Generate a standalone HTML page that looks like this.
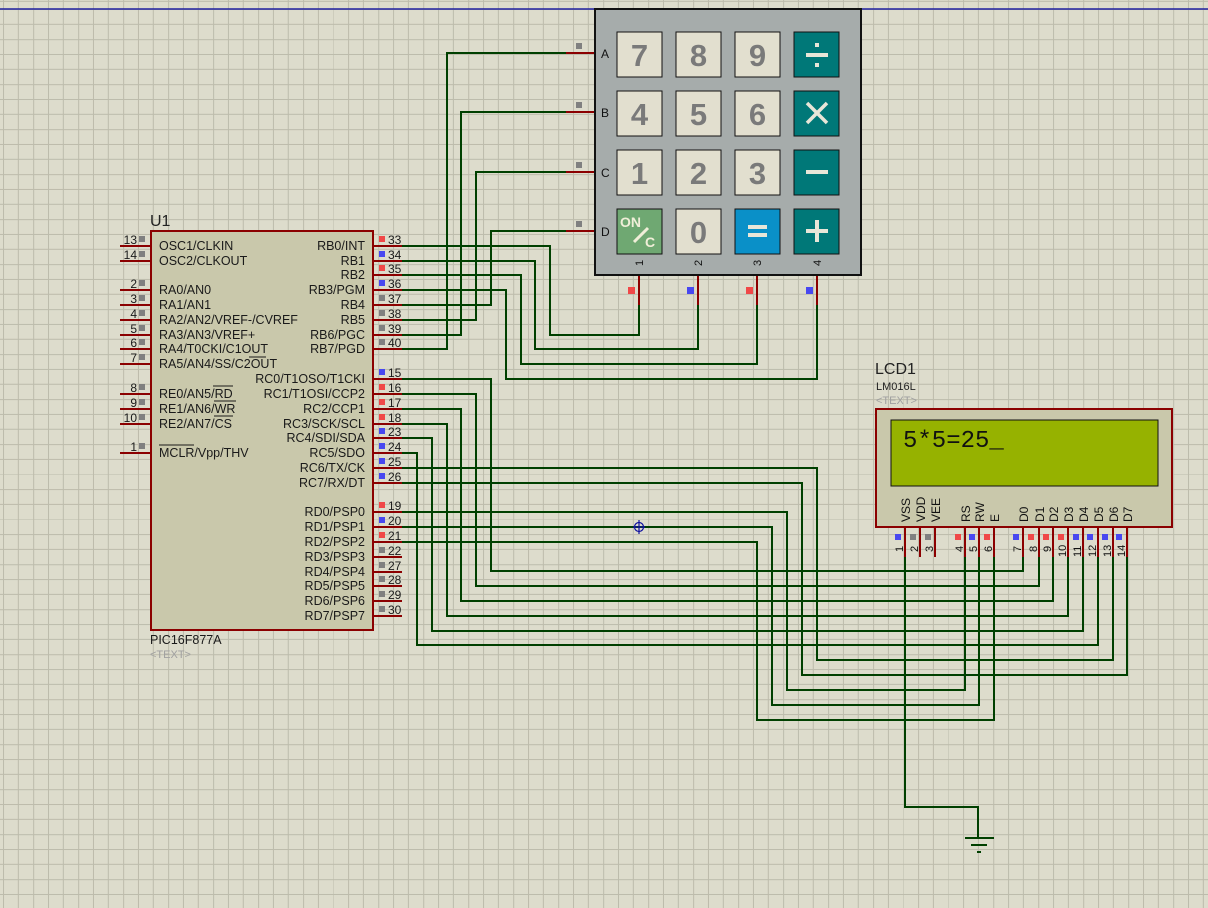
<!DOCTYPE html>
<html><head><meta charset="utf-8"><style>
html,body{margin:0;padding:0;width:1208px;height:908px;overflow:hidden}
body{background-color:#dddccc;background-image:repeating-linear-gradient(to right,#bdbcac 0,#bdbcac 1px,transparent 1px,transparent 15px),repeating-linear-gradient(to bottom,#bdbcac 0,#bdbcac 1px,transparent 1px,transparent 15px);background-position:3px 9px}
svg{position:absolute;left:0;top:0}
text{font-family:"Liberation Sans",Arial,sans-serif}
</style></head><body>
<svg width="1208" height="908" viewBox="0 0 1208 908">
<line x1="0" y1="9" x2="1208" y2="9" stroke="#2020a0" stroke-width="1.5"/>
<g fill="none" stroke="#004000" stroke-width="2">
<polyline points="402,246 550,246 550,335 639,335 639,305"/>
<polyline points="402,261 535,261 535,349 698,349 698,305"/>
<polyline points="402,275 521,275 521,364 757,364 757,305"/>
<polyline points="402,290 506,290 506,379 817,379 817,305"/>
<polyline points="402,305 491,305 491,231 566,231"/>
<polyline points="402,320 476,320 476,172 566,172"/>
<polyline points="402,335 461,335 461,112 566,112"/>
<polyline points="402,349 447,349 447,53 566,53"/>
<polyline points="402,379 491,379 491,571 1023,571 1023,557"/>
<polyline points="402,394 476,394 476,586 1039,586 1039,557"/>
<polyline points="402,409 461,409 461,601 1053,601 1053,557"/>
<polyline points="402,424 447,424 447,616 1068,616 1068,557"/>
<polyline points="402,438 432,438 432,631 1083,631 1083,557"/>
<polyline points="402,453 417,453 417,645 1098,645 1098,557"/>
<polyline points="402,468 817,468 817,660 1113,660 1113,557"/>
<polyline points="402,483 802,483 802,675 1127,675 1127,557"/>
<polyline points="402,512 787,512 787,690 965,690 965,557"/>
<polyline points="402,527 772,527 772,705 979,705 979,557"/>
<polyline points="402,542 757,542 757,720 994,720 994,557"/>
<polyline points="905,557 905,807 978,807 978,837"/>
</g>
<g stroke="#004000" stroke-width="2"><line x1="965" y1="838" x2="994" y2="838"/><line x1="971" y1="845" x2="987" y2="845"/><line x1="977" y1="852" x2="981" y2="852"/></g>
<g stroke="#1010a0" stroke-width="1.2" fill="none"><circle cx="639" cy="527" r="4.5"/><line x1="639" y1="520" x2="639" y2="534"/><line x1="633" y1="527" x2="645" y2="527"/></g>

<text x="150" y="226" font-size="16" fill="#222">U1</text>
<g stroke="#8b0000" stroke-width="2">
<line x1="120" y1="246" x2="151" y2="246"/><line x1="120" y1="261" x2="151" y2="261"/>
<line x1="120" y1="290" x2="151" y2="290"/><line x1="120" y1="305" x2="151" y2="305"/><line x1="120" y1="320" x2="151" y2="320"/><line x1="120" y1="335" x2="151" y2="335"/><line x1="120" y1="349" x2="151" y2="349"/><line x1="120" y1="364" x2="151" y2="364"/>
<line x1="120" y1="394" x2="151" y2="394"/><line x1="120" y1="409" x2="151" y2="409"/><line x1="120" y1="424" x2="151" y2="424"/><line x1="120" y1="453" x2="151" y2="453"/>
<line x1="373" y1="246" x2="402" y2="246"/><line x1="373" y1="261" x2="402" y2="261"/><line x1="373" y1="275" x2="402" y2="275"/><line x1="373" y1="290" x2="402" y2="290"/><line x1="373" y1="305" x2="402" y2="305"/><line x1="373" y1="320" x2="402" y2="320"/><line x1="373" y1="335" x2="402" y2="335"/><line x1="373" y1="349" x2="402" y2="349"/>
<line x1="373" y1="379" x2="402" y2="379"/><line x1="373" y1="394" x2="402" y2="394"/><line x1="373" y1="409" x2="402" y2="409"/><line x1="373" y1="424" x2="402" y2="424"/><line x1="373" y1="438" x2="402" y2="438"/><line x1="373" y1="453" x2="402" y2="453"/><line x1="373" y1="468" x2="402" y2="468"/><line x1="373" y1="483" x2="402" y2="483"/>
<line x1="373" y1="512" x2="402" y2="512"/><line x1="373" y1="527" x2="402" y2="527"/><line x1="373" y1="542" x2="402" y2="542"/><line x1="373" y1="557" x2="402" y2="557"/><line x1="373" y1="572" x2="402" y2="572"/><line x1="373" y1="586" x2="402" y2="586"/><line x1="373" y1="601" x2="402" y2="601"/><line x1="373" y1="616" x2="402" y2="616"/>
</g>
<rect x="151" y="231" width="222" height="399" fill="#c9c8ab" stroke="#8b0000" stroke-width="2"/>
<g font-size="12.5" fill="#1a1a1a">
<text x="159" y="250">OSC1/CLKIN</text><text x="159" y="265">OSC2/CLKOUT</text>
<text x="159" y="294">RA0/AN0</text><text x="159" y="309">RA1/AN1</text><text x="159" y="324">RA2/AN2/VREF-/CVREF</text><text x="159" y="339">RA3/AN3/VREF+</text><text x="159" y="353">RA4/T0CKI/C1OUT</text><text x="159" y="368">RA5/AN4/SS/C2OUT</text>
<text x="159" y="398">RE0/AN5/RD</text><text x="159" y="413">RE1/AN6/WR</text><text x="159" y="428">RE2/AN7/CS</text><text x="159" y="457">MCLR/Vpp/THV</text>
</g>
<g stroke="#1a1a1a" stroke-width="1"><line x1="249" y1="357" x2="266" y2="357"/><line x1="213" y1="386" x2="233" y2="386"/><line x1="214" y1="401" x2="236" y2="401"/><line x1="214" y1="416" x2="233" y2="416"/><line x1="159" y1="445" x2="194" y2="445"/></g>
<g font-size="12.5" fill="#1a1a1a" text-anchor="end">
<text x="365" y="250">RB0/INT</text><text x="365" y="265">RB1</text><text x="365" y="279">RB2</text><text x="365" y="294">RB3/PGM</text><text x="365" y="309">RB4</text><text x="365" y="324">RB5</text><text x="365" y="339">RB6/PGC</text><text x="365" y="353">RB7/PGD</text>
<text x="365" y="383">RC0/T1OSO/T1CKI</text><text x="365" y="398">RC1/T1OSI/CCP2</text><text x="365" y="413">RC2/CCP1</text><text x="365" y="428">RC3/SCK/SCL</text><text x="365" y="442">RC4/SDI/SDA</text><text x="365" y="457">RC5/SDO</text><text x="365" y="472">RC6/TX/CK</text><text x="365" y="487">RC7/RX/DT</text>
<text x="365" y="516">RD0/PSP0</text><text x="365" y="531">RD1/PSP1</text><text x="365" y="546">RD2/PSP2</text><text x="365" y="561">RD3/PSP3</text><text x="365" y="576">RD4/PSP4</text><text x="365" y="590">RD5/PSP5</text><text x="365" y="605">RD6/PSP6</text><text x="365" y="620">RD7/PSP7</text>
</g>
<g font-size="12" fill="#1a1a1a" text-anchor="end">
<text x="137" y="244">13</text><text x="137" y="259">14</text><text x="137" y="288">2</text><text x="137" y="303">3</text><text x="137" y="318">4</text><text x="137" y="333">5</text><text x="137" y="347">6</text><text x="137" y="362">7</text><text x="137" y="392">8</text><text x="137" y="407">9</text><text x="137" y="422">10</text><text x="137" y="451">1</text>
</g>
<g fill="#808080">
<rect x="139" y="236" width="6" height="6"/><rect x="139" y="251" width="6" height="6"/><rect x="139" y="280" width="6" height="6"/><rect x="139" y="295" width="6" height="6"/><rect x="139" y="310" width="6" height="6"/><rect x="139" y="325" width="6" height="6"/><rect x="139" y="339" width="6" height="6"/><rect x="139" y="354" width="6" height="6"/><rect x="139" y="384" width="6" height="6"/><rect x="139" y="399" width="6" height="6"/><rect x="139" y="414" width="6" height="6"/><rect x="139" y="443" width="6" height="6"/>
</g>
<g font-size="12" fill="#1a1a1a">
<text x="388" y="244">33</text><text x="388" y="259">34</text><text x="388" y="273">35</text><text x="388" y="288">36</text><text x="388" y="303">37</text><text x="388" y="318">38</text><text x="388" y="333">39</text><text x="388" y="347">40</text>
<text x="388" y="377">15</text><text x="388" y="392">16</text><text x="388" y="407">17</text><text x="388" y="422">18</text><text x="388" y="436">23</text><text x="388" y="451">24</text><text x="388" y="466">25</text><text x="388" y="481">26</text>
<text x="388" y="510">19</text><text x="388" y="525">20</text><text x="388" y="540">21</text><text x="388" y="555">22</text><text x="388" y="570">27</text><text x="388" y="584">28</text><text x="388" y="599">29</text><text x="388" y="614">30</text>
</g>
<g>
<rect x="379" y="236" width="6" height="6" fill="#f04848"/><rect x="379" y="251" width="6" height="6" fill="#4848f0"/><rect x="379" y="265" width="6" height="6" fill="#f04848"/><rect x="379" y="280" width="6" height="6" fill="#4848f0"/><rect x="379" y="295" width="6" height="6" fill="#808080"/><rect x="379" y="310" width="6" height="6" fill="#808080"/><rect x="379" y="325" width="6" height="6" fill="#808080"/><rect x="379" y="339" width="6" height="6" fill="#808080"/>
<rect x="379" y="369" width="6" height="6" fill="#4848f0"/><rect x="379" y="384" width="6" height="6" fill="#f04848"/><rect x="379" y="399" width="6" height="6" fill="#f04848"/><rect x="379" y="414" width="6" height="6" fill="#f04848"/><rect x="379" y="428" width="6" height="6" fill="#4848f0"/><rect x="379" y="443" width="6" height="6" fill="#4848f0"/><rect x="379" y="458" width="6" height="6" fill="#4848f0"/><rect x="379" y="473" width="6" height="6" fill="#4848f0"/>
<rect x="379" y="502" width="6" height="6" fill="#f04848"/><rect x="379" y="517" width="6" height="6" fill="#4848f0"/><rect x="379" y="532" width="6" height="6" fill="#f04848"/><rect x="379" y="547" width="6" height="6" fill="#808080"/><rect x="379" y="562" width="6" height="6" fill="#808080"/><rect x="379" y="576" width="6" height="6" fill="#808080"/><rect x="379" y="591" width="6" height="6" fill="#808080"/><rect x="379" y="606" width="6" height="6" fill="#808080"/>
</g>
<text x="150" y="644" font-size="12.5" fill="#1a1a1a">PIC16F877A</text>
<text x="150" y="658" font-size="11" fill="#a0a0a0">&lt;TEXT&gt;</text>

<g stroke="#8b0000" stroke-width="2">
<line x1="566" y1="53" x2="595" y2="53"/><line x1="566" y1="112" x2="595" y2="112"/><line x1="566" y1="172" x2="595" y2="172"/><line x1="566" y1="231" x2="595" y2="231"/>
<line x1="639" y1="275" x2="639" y2="305"/><line x1="698" y1="275" x2="698" y2="305"/><line x1="757" y1="275" x2="757" y2="305"/><line x1="817" y1="275" x2="817" y2="305"/>
</g>
<g fill="#808080"><rect x="576" y="43" width="6" height="6"/><rect x="576" y="102" width="6" height="6"/><rect x="576" y="162" width="6" height="6"/><rect x="576" y="221" width="6" height="6"/></g>
<rect x="628" y="287" width="7" height="7" fill="#f04848"/><rect x="687" y="287" width="7" height="7" fill="#4848f0"/><rect x="746" y="287" width="7" height="7" fill="#f04848"/><rect x="806" y="287" width="7" height="7" fill="#4848f0"/>
<rect x="595" y="9" width="266" height="266" fill="#a6acab" stroke="#111" stroke-width="2"/>
<g font-size="12" fill="#111"><text x="601" y="58">A</text><text x="601" y="117">B</text><text x="601" y="177">C</text><text x="601" y="236">D</text></g>
<g font-size="11" fill="#111">
<text transform="translate(643,266) rotate(-90)">1</text><text transform="translate(702,266) rotate(-90)">2</text><text transform="translate(761,266) rotate(-90)">3</text><text transform="translate(821,266) rotate(-90)">4</text>
</g>
<g stroke="#111" stroke-width="1">
<rect x="617" y="32" width="45" height="45" fill="#e2dfcf"/><rect x="676" y="32" width="45" height="45" fill="#e2dfcf"/><rect x="735" y="32" width="45" height="45" fill="#e2dfcf"/><rect x="794" y="32" width="45" height="45" fill="#007878"/>
<rect x="617" y="91" width="45" height="45" fill="#e2dfcf"/><rect x="676" y="91" width="45" height="45" fill="#e2dfcf"/><rect x="735" y="91" width="45" height="45" fill="#e2dfcf"/><rect x="794" y="91" width="45" height="45" fill="#007878"/>
<rect x="617" y="150" width="45" height="45" fill="#e2dfcf"/><rect x="676" y="150" width="45" height="45" fill="#e2dfcf"/><rect x="735" y="150" width="45" height="45" fill="#e2dfcf"/><rect x="794" y="150" width="45" height="45" fill="#007878"/>
<rect x="617" y="209" width="45" height="45" fill="#6fa872"/><rect x="676" y="209" width="45" height="45" fill="#e2dfcf"/><rect x="735" y="209" width="45" height="45" fill="#0a90c8"/><rect x="794" y="209" width="45" height="45" fill="#007878"/>
</g>
<g font-size="31" font-weight="bold" fill="#7a7a7a" text-anchor="middle">
<text x="639.5" y="66">7</text><text x="698.5" y="66">8</text><text x="757.5" y="66">9</text>
<text x="639.5" y="125">4</text><text x="698.5" y="125">5</text><text x="757.5" y="125">6</text>
<text x="639.5" y="184">1</text><text x="698.5" y="184">2</text><text x="757.5" y="184">3</text>
<text x="698.5" y="243">0</text>
</g>
<g fill="#e8e6d8">
<rect x="806" y="53" width="22" height="4"/><rect x="815" y="43" width="4" height="4"/><rect x="815" y="63" width="4" height="4"/>
<rect x="806" y="170" width="22" height="4"/>
<rect x="806" y="229" width="22" height="4"/><rect x="815" y="220" width="4" height="22"/>
<rect x="748" y="225" width="19" height="4"/><rect x="748" y="233" width="19" height="4"/>
</g>
<g stroke="#e8e6d8" stroke-width="3.5"><line x1="807" y1="103" x2="827" y2="123"/><line x1="827" y1="103" x2="807" y2="123"/></g>
<text x="620" y="227" font-size="14" font-weight="bold" fill="#f0eed8">ON</text>
<line x1="634" y1="242" x2="648" y2="228" stroke="#f0eed8" stroke-width="3"/>
<text x="645" y="247" font-size="14" font-weight="bold" fill="#f0eed8">C</text>

<text x="875" y="374" font-size="16" fill="#222">LCD1</text>
<text x="876" y="390" font-size="11" fill="#222">LM016L</text>
<text x="876" y="404" font-size="11" fill="#a0a0a0">&lt;TEXT&gt;</text>
<g stroke="#8b0000" stroke-width="2">
<line x1="905" y1="527" x2="905" y2="557"/><line x1="920" y1="527" x2="920" y2="557"/><line x1="935" y1="527" x2="935" y2="557"/>
<line x1="965" y1="527" x2="965" y2="557"/><line x1="979" y1="527" x2="979" y2="557"/><line x1="994" y1="527" x2="994" y2="557"/>
<line x1="1023" y1="527" x2="1023" y2="557"/><line x1="1039" y1="527" x2="1039" y2="557"/><line x1="1053" y1="527" x2="1053" y2="557"/><line x1="1068" y1="527" x2="1068" y2="557"/><line x1="1083" y1="527" x2="1083" y2="557"/><line x1="1098" y1="527" x2="1098" y2="557"/><line x1="1113" y1="527" x2="1113" y2="557"/><line x1="1127" y1="527" x2="1127" y2="557"/>
</g>
<rect x="876" y="409" width="296" height="118" fill="#c9c8ab" stroke="#8b0000" stroke-width="2"/>
<rect x="891" y="420" width="267" height="66" fill="#96b200" stroke="#111" stroke-width="1"/>
<text x="903" y="447" font-size="24" fill="#111" style="font-family:'Liberation Mono',monospace">5*5=25_</text>
<g font-size="12" fill="#111">
<text transform="translate(910,522) rotate(-90)">VSS</text><text transform="translate(925,522) rotate(-90)">VDD</text><text transform="translate(940,522) rotate(-90)">VEE</text>
<text transform="translate(970,522) rotate(-90)">RS</text><text transform="translate(984,522) rotate(-90)">RW</text><text transform="translate(999,522) rotate(-90)">E</text>
<text transform="translate(1028,522) rotate(-90)">D0</text><text transform="translate(1044,522) rotate(-90)">D1</text><text transform="translate(1058,522) rotate(-90)">D2</text><text transform="translate(1073,522) rotate(-90)">D3</text><text transform="translate(1088,522) rotate(-90)">D4</text><text transform="translate(1103,522) rotate(-90)">D5</text><text transform="translate(1118,522) rotate(-90)">D6</text><text transform="translate(1132,522) rotate(-90)">D7</text>
</g>
<g font-size="11" fill="#111">
<text transform="translate(903,552) rotate(-90)">1</text><text transform="translate(918,552) rotate(-90)">2</text><text transform="translate(933,552) rotate(-90)">3</text>
<text transform="translate(963,552) rotate(-90)">4</text><text transform="translate(977,552) rotate(-90)">5</text><text transform="translate(992,552) rotate(-90)">6</text>
<text transform="translate(1021,552) rotate(-90)">7</text><text transform="translate(1037,552) rotate(-90)">8</text><text transform="translate(1051,552) rotate(-90)">9</text><text transform="translate(1066,557) rotate(-90)">10</text><text transform="translate(1081,557) rotate(-90)">11</text><text transform="translate(1096,557) rotate(-90)">12</text><text transform="translate(1111,557) rotate(-90)">13</text><text transform="translate(1125,557) rotate(-90)">14</text>
</g>
<g>
<rect x="895" y="534" width="6" height="6" fill="#4848f0"/><rect x="910" y="534" width="6" height="6" fill="#808080"/><rect x="925" y="534" width="6" height="6" fill="#808080"/>
<rect x="955" y="534" width="6" height="6" fill="#f04848"/><rect x="969" y="534" width="6" height="6" fill="#4848f0"/><rect x="984" y="534" width="6" height="6" fill="#f04848"/>
<rect x="1013" y="534" width="6" height="6" fill="#4848f0"/><rect x="1028" y="534" width="6" height="6" fill="#f04848"/><rect x="1043" y="534" width="6" height="6" fill="#f04848"/><rect x="1058" y="534" width="6" height="6" fill="#f04848"/><rect x="1073" y="534" width="6" height="6" fill="#4848f0"/><rect x="1087" y="534" width="6" height="6" fill="#4848f0"/><rect x="1102" y="534" width="6" height="6" fill="#4848f0"/><rect x="1116" y="534" width="6" height="6" fill="#4848f0"/>
</g>
</svg>
</body></html>
